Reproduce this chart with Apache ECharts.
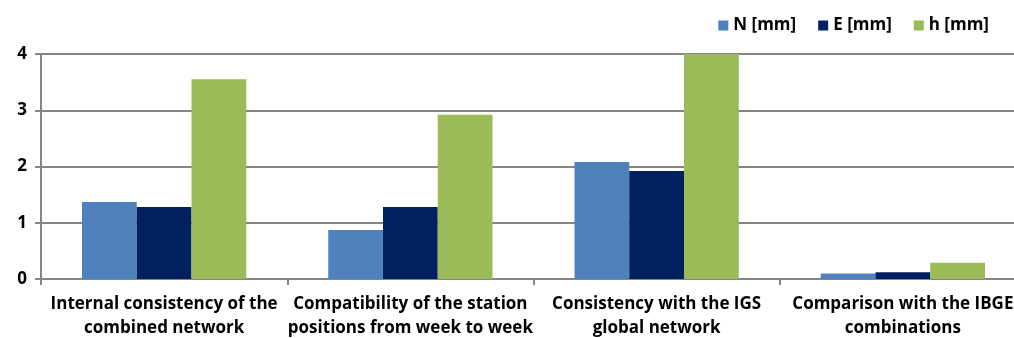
<!DOCTYPE html>
<html>
<head>
<meta charset="utf-8">
<script src="https://cdn.jsdelivr.net/npm/echarts@6/dist/echarts.min.js"></script>
<style>
  html, body { margin: 0; padding: 0; background: #fff; }
  #chart { width: 1014px; height: 338px; }
</style>
</head>
<body>
<div id="chart"></div>
<script>
// categories and values
var categories = [
    'Internal consistency of the\ncombined network',
    'Compatibility of the station\npositions from week to week',
    'Consistency with the IGS\nglobal network',
    'Comparison with the IBGE\ncombinations'
];
var seriesNames = ['N [mm]', 'E [mm]', 'h [mm]'];
var nValues = [1.37, 0.87, 2.08, 0.10];
var eValues = [1.28, 1.28, 1.92, 0.12];
var hValues = [3.55, 2.92, 4.0, 0.29];
var yTicks = [0, 1, 2, 3, 4];

var font = 'Open Sans, sans-serif';
var colors = ['#4F81BD', '#002060', '#9BBB59'];

var myChart = echarts.init(document.getElementById('chart'));

var option = {
    animation: false,
    color: colors,
    legend: {
        right: 20,
        top: 12,
        itemWidth: 10,
        itemHeight: 10,
        itemGap: 22,
        icon: 'rect',
        textStyle: { fontFamily: font, fontWeight: 'bold', fontSize: 17, color: '#000' },
        data: seriesNames
    },
    grid: {
        left: 41,
        width: 985,
        top: 54,
        bottom: 59,
        containLabel: false,
        outerBoundsMode: 'none'
    },
    xAxis: {
        type: 'category',
        data: categories,
        axisLine: { lineStyle: { color: '#868686', width: 2 } },
        axisTick: { show: true, length: 6, lineStyle: { color: '#868686', width: 2 } },
        axisLabel: {
            fontFamily: font,
            fontWeight: 'bold',
            fontSize: 17,
            color: '#000',
            lineHeight: 24,
            margin: 13,
            interval: 0
        }
    },
    yAxis: {
        type: 'value',
        min: yTicks[0],
        max: yTicks[yTicks.length - 1],
        interval: 1,
        axisLine: { show: true, lineStyle: { color: '#868686', width: 2 } },
        axisTick: { show: true, length: 6, lineStyle: { color: '#868686', width: 2 } },
        splitLine: { lineStyle: { color: '#868686', width: 2 } },
        axisLabel: {
            fontFamily: font,
            fontWeight: 'bold',
            fontSize: 17,
            color: '#000',
            margin: 14
        }
    },
    series: [
        { name: seriesNames[0], type: 'bar', data: nValues, barGap: '0%', barCategoryGap: '33.3%' },
        { name: seriesNames[1], type: 'bar', data: eValues, barGap: '0%', barCategoryGap: '33.3%' },
        { name: seriesNames[2], type: 'bar', data: hValues, barGap: '0%', barCategoryGap: '33.3%' }
    ]
};

myChart.setOption(option);
</script>
</body>
</html>
